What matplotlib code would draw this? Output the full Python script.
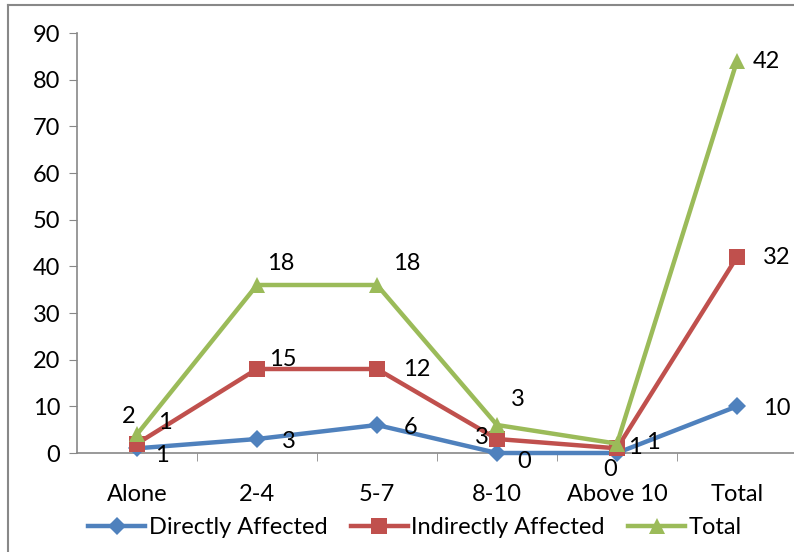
import matplotlib
matplotlib.use("Agg")
from matplotlib import pyplot as plt
from matplotlib.lines import Line2D
import numpy as np

categories = ["Alone", "2-4", "5-7", "8-10", "Above 10", "Total"]
directly = [1, 3, 6, 0, 0, 10]
indirectly = [1, 15, 12, 3, 1, 32]
total = [2, 18, 18, 3, 1, 42]

# label offsets in pixels (dx, dy), hand placed like in the source chart
off_direct = [(25, -7), (32, -2), (34, -2), (27, -9), (-7, -16), (40, -2)]
off_indirect = [(28, 21), (26, 9), (40, -1), (-15, 2), (18, 1), (40, -1)]
off_total = [(-8, 18), (24, 21), (30, 21), (21, 25), (36, 1), (29, 0)]

plt.rcParams['font.family'] = ['Lato', 'DejaVu Sans']
fs = 17

fig = plt.figure(figsize=(7.94, 5.52), dpi=100)
ax = fig.add_axes([77 / 794, 99 / 552, 720 / 794, 420 / 552])

# stacked line chart
x = np.arange(len(categories))
y1 = np.array(directly)
y2 = y1 + np.array(indirectly)
y3 = y2 + np.array(total)

series = [
    (y1, directly, off_direct, "#4F81BD", "D", 9, "Directly Affected"),
    (y2, indirectly, off_indirect, "#C0504D", "s", 11, "Indirectly Affected"),
    (y3, total, off_total, "#9BBB59", "^", 12, "Total"),
]

handles = []
for ys, labels, offs, col, mk, ms, name in series:
    h, = ax.plot(x, ys, color=col, lw=3.2, marker=mk, markersize=ms,
                 markeredgewidth=0, label=name, clip_on=False, zorder=3)
    handles.append(h)
    for xi, yi, lab, (dx, dy) in zip(x, ys, labels, offs):
        ax.annotate(str(lab), (xi, yi), xytext=(dx, dy), textcoords="offset pixels",
                    ha="center", va="center", fontsize=fs, zorder=5)

ax.set_xlim(-0.5, 5.5)
ax.set_ylim(0, 90)
ax.set_yticks(range(0, 91, 10))
ax.set_xticks(x)
ax.set_xticklabels(categories)
ax.set_xticks(np.arange(0.5, 5.5, 1), minor=True)
ax.tick_params(axis="x", which="major", length=0, labelsize=fs, pad=22)
ax.tick_params(axis="x", which="minor", length=6, color="#888888")
ax.tick_params(axis="y", length=6, color="#888888", labelsize=fs, pad=6)

for s in ["top", "right"]:
    ax.spines[s].set_visible(False)
for s in ["left", "bottom"]:
    ax.spines[s].set_color("#888888")
    ax.spines[s].set_linewidth(1.2)

fig.legend(handles=handles, loc="center", bbox_to_anchor=(415 / 794, 1 - 528 / 552),
           ncol=3, frameon=False, fontsize=fs, handlelength=2.4, handletextpad=0.15,
           columnspacing=1.0, borderpad=0)

# outer chart border (left and top only visible)
fig.add_artist(Line2D([8 / 794, 8 / 794], [0, 1 - 5 / 552], color="#888888", lw=1.5))
fig.add_artist(Line2D([8 / 794, 1], [1 - 5 / 552, 1 - 5 / 552], color="#888888", lw=1.5))

fig.savefig("out.png", dpi=100)
